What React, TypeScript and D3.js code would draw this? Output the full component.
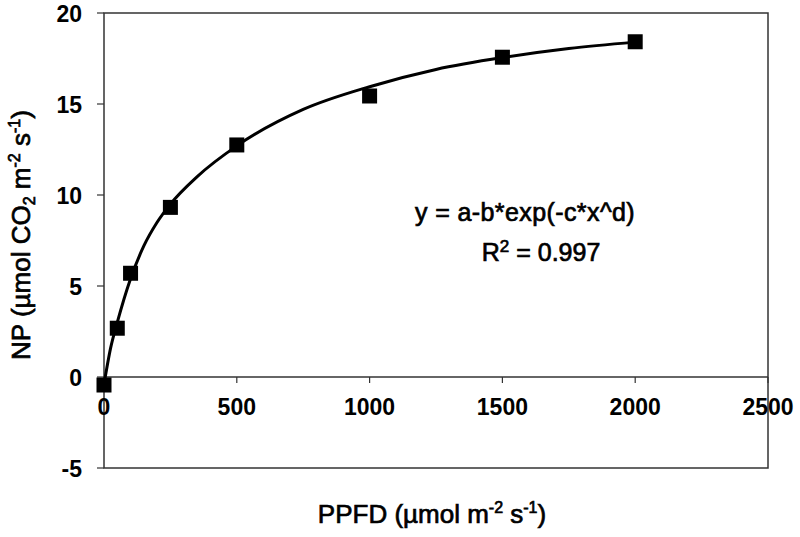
import React from "react";
import * as d3 from "d3";

const pointX = [0, 50, 100, 250, 500, 1000, 1500, 2000];
const pointY = [-0.44, 2.68, 5.7, 9.32, 12.75, 15.44, 17.57, 18.42];

const curveX = [0, 25, 50, 100, 150, 200, 250, 350, 500, 750, 1000, 1250, 1500, 1750, 2000];
const curveY = [-0.4, 1.6, 3.0, 5.4, 7.2, 8.5, 9.5, 11.0, 12.7, 14.7, 15.95, 16.9, 17.55, 18.05, 18.4];

const xTicks = [0, 500, 1000, 1500, 2000, 2500];
const yTicks = [-5, 0, 5, 10, 15, 20];

const W = 800;
const H = 537;
const FONT = "'Liberation Sans', Arial, sans-serif";

export default function App() {
  const x = d3.scaleLinear().domain([0, 2500]).range([104, 768]);
  const y = d3.scaleLinear().domain([-5, 20]).range([468, 13]);
  const line = d3
    .line<number>()
    .x((_, i) => x(curveX[i]))
    .y((d) => y(d))
    .curve(d3.curveMonotoneX);
  const axisColor = "#333";
  const thick = { stroke: "#000", strokeWidth: 0.7 };
  return (
    <svg
      width={W}
      height={H}
      style={{ position: "absolute", left: 0, top: 0, background: "#fff" }}
      fontFamily={FONT}
    >
      <rect x={0} y={0} width={W} height={H} fill="#fff" />
      {/* frame */}
      <rect
        x={x(0)}
        y={y(20)}
        width={x(2500) - x(0)}
        height={y(-5) - y(20)}
        fill="none"
        stroke={axisColor}
        strokeWidth={1.5}
      />
      {/* x axis at y=0 */}
      <line x1={x(0)} x2={x(2500)} y1={y(0)} y2={y(0)} stroke={axisColor} strokeWidth={1.5} />
      {xTicks.map((t) => (
        <g key={"xt" + t}>
          <line x1={x(t)} x2={x(t)} y1={y(0)} y2={y(0) + 6} stroke={axisColor} strokeWidth={1.2} />
          <text
            x={x(t)}
            y={y(0) + 38}
            textAnchor="middle"
            fontSize={23}
            fontWeight="bold"
            fill="#000"
          >
            {t}
          </text>
        </g>
      ))}
      {yTicks.map((t) => (
        <g key={"yt" + t}>
          <line x1={x(0) - 7} x2={x(0)} y1={y(t)} y2={y(t)} stroke={axisColor} strokeWidth={1.2} />
          <text
            x={82}
            y={y(t) + 9}
            textAnchor="end"
            fontSize={23}
            fontWeight="bold"
            fill="#000"
          >
            {t}
          </text>
        </g>
      ))}
      {/* fitted curve */}
      <path d={line(curveY) || ""} fill="none" stroke="#000" strokeWidth={3} />
      {/* points */}
      {pointX.map((px, i) => (
        <rect
          key={"p" + i}
          x={x(px) - 7.5}
          y={y(pointY[i]) - 7.5}
          width={15}
          height={15}
          fill="#000"
        />
      ))}
      {/* equation */}
      <text x={525} y={221} textAnchor="middle" fontSize={25} fill="#000" {...thick} letterSpacing={0.4}>
        y = a-b*exp(-c*x^d)
      </text>
      <text x={541} y={261} textAnchor="middle" fontSize={25} fill="#000" {...thick}>
        R<tspan fontSize={17} dy={-9}>2</tspan>
        <tspan dy={9}> = 0.997</tspan>
      </text>
      {/* x title */}
      <text x={432} y={523} textAnchor="middle" fontSize={26} fill="#000" {...thick}>
        PPFD (µmol m<tspan fontSize={16} dy={-10}>-2</tspan>
        <tspan dy={10}> s</tspan>
        <tspan fontSize={16} dy={-10}>-1</tspan>
        <tspan dy={10}>)</tspan>
      </text>
      {/* y title */}
      <text
        transform={`translate(30,235) rotate(-90)`}
        textAnchor="middle"
        fontSize={26}
        fill="#000"
        {...thick}
      >
        NP (µmol CO<tspan fontSize={16} dy={5}>2</tspan>
        <tspan dy={-5}> m</tspan>
        <tspan fontSize={16} dy={-10}>-2</tspan>
        <tspan dy={10}> s</tspan>
        <tspan fontSize={16} dy={-10}>-1</tspan>
        <tspan dy={10}>)</tspan>
      </text>
    </svg>
  );
}
